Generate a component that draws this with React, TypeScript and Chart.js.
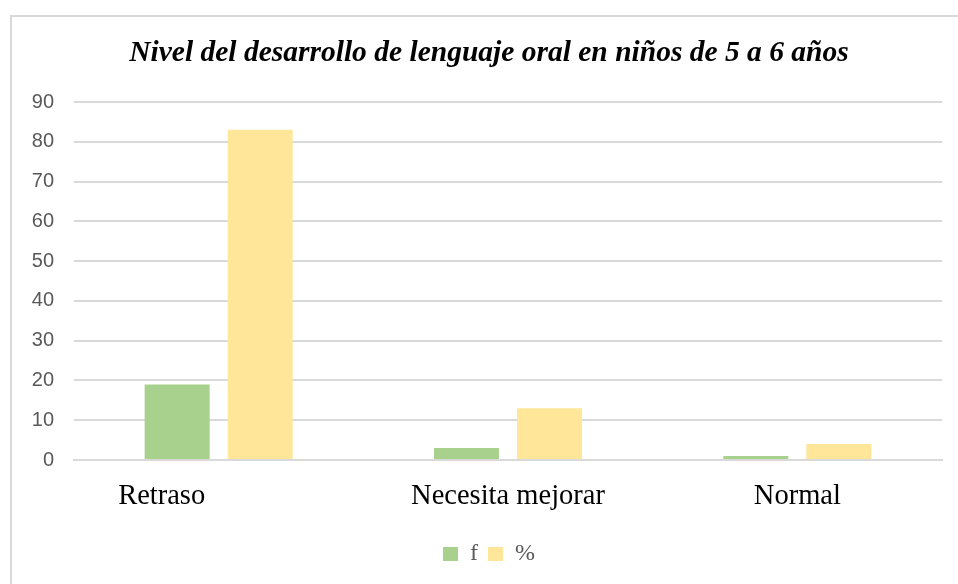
import React, { useEffect, useRef } from "react";
import { Chart, registerables } from "chart.js";

Chart.register(...registerables);

const categories = ["Retraso", "Necesita mejorar", "Normal"];
const fValues = [19, 3, 1];
const pctValues = [83, 13, 4];
const seriesNames = ["f", "%"];
const yMin = 0;
const yMax = 90;
const yStep = 10;
const titleText = "Nivel del desarrollo de lenguaje oral en niños de 5 a 6 años";

const frameBorder = {
  id: "frameBorder",
  beforeDraw(chart: any) {
    const ctx = chart.ctx;
    ctx.save();
    ctx.strokeStyle = "#d9d9d9";
    ctx.lineWidth = 2;
    ctx.beginPath();
    ctx.moveTo(11, 584);
    ctx.lineTo(11, 16);
    ctx.lineTo(958, 16);
    ctx.stroke();
    ctx.restore();
  },
};

export default function App() {
  const ref = useRef<HTMLCanvasElement | null>(null);
  useEffect(() => {
    if (!ref.current) return;
    const chart = new Chart(ref.current, {
      type: "bar",
      data: {
        labels: categories,
        datasets: [
          {
            label: seriesNames[0],
            data: fValues,
            backgroundColor: "#a9d18e",
            categoryPercentage: 0.574,
            barPercentage: 0.783,
            yAxisID: "y",
          },
          {
            label: seriesNames[1],
            data: pctValues,
            backgroundColor: "#ffe699",
            categoryPercentage: 0.574,
            barPercentage: 0.783,
            yAxisID: "y",
          },
        ],
      },
      options: {
        responsive: false,
        animation: false,
        layout: { padding: { left: 20, right: 0, top: 15, bottom: 8 } },
        plugins: {
          title: {
            display: true,
            text: titleText,
            color: "#000000",
            font: { family: "Liberation Serif", size: 29.5, weight: "bold", style: "italic", lineHeight: 1.2 },
            padding: { top: 21, bottom: 30.6 },
          },
          legend: {
            position: "bottom",
            labels: {
              boxWidth: 15,
              boxHeight: 14,
              color: "#595959",
              font: { family: "Liberation Serif", size: 24 },
              padding: 10,
            },
          },
          tooltip: { enabled: false },
        },
        scales: {
          x: {
            grid: { display: false },
            border: { display: true, color: "#d9d9d9", width: 2 },
            ticks: {
              color: "#000000",
              font: { family: "Liberation Serif", size: 28.5 },
              padding: 11,
              maxRotation: 0,
              callback: function (this: any, value: any, index: number) {
                const lbl = categories[index];
                return index === 0 ? lbl + "                " : lbl;
              },
            },
            afterFit(scale: any) {
              scale.height = 72;
            },
          },
          y: {
            position: "left",
            min: yMin,
            max: yMax,
            border: { display: false },
            grid: { color: "#d9d9d9", lineWidth: 2, drawTicks: false },
            ticks: {
              stepSize: yStep,
              color: "#595959",
              font: { family: "Liberation Sans", size: 20 },
              padding: 20,
            },
            afterFit(scale: any) {
              scale.width = 54;
            },
          },
          yRightSpace: {
            position: "right",
            display: true,
            grid: { display: false, drawTicks: false },
            border: { display: false },
            ticks: { display: false },
            afterFit(scale: any) {
              scale.width = 16;
            },
          },
        },
      },
      plugins: [frameBorder],
    });
    return () => chart.destroy();
  }, []);
  return (
    <div style={{ position: "fixed", left: 0, top: 0, width: 958, height: 584, background: "#ffffff" }}>
      <canvas ref={ref} width={958} height={584} />
    </div>
  );
}
